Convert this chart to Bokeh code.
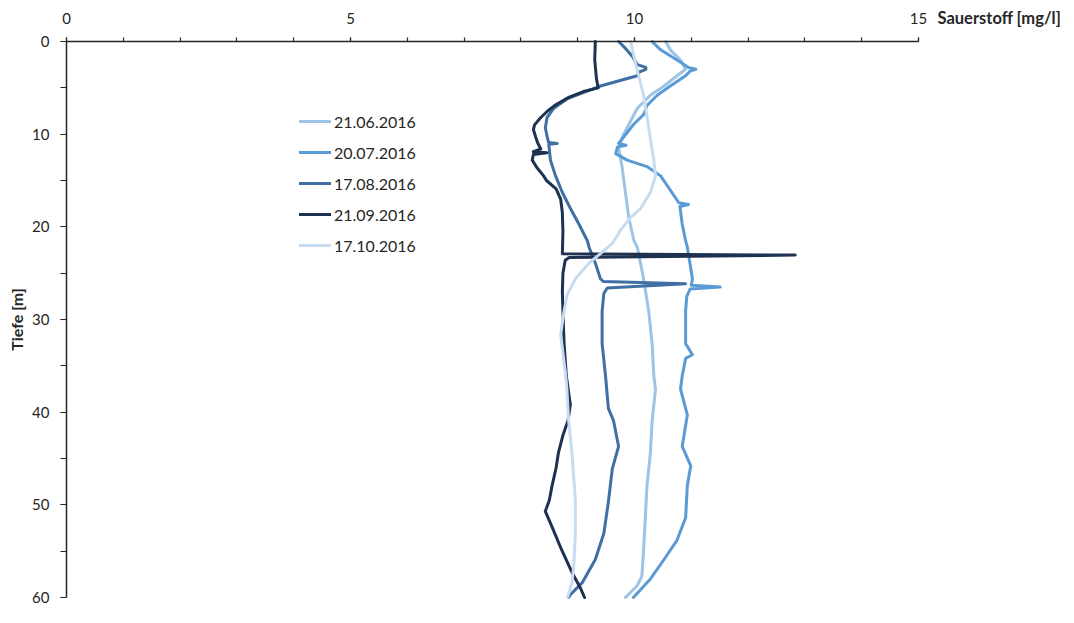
import math
from bokeh.plotting import figure
from bokeh.models import Range1d, Legend, LegendItem, Label, FixedTicker
from bokeh.embed import file_html
from bokeh.resources import INLINE

# ---- data (depth in m, oxygen in mg/l) ----
d_0621 = [0, 0.9, 2.0, 3.0, 3.7, 4.8, 5.8, 7.2, 8.6, 10.0, 11.4, 13.5, 16.3, 19.0, 21.5, 22.2,
          25.6, 29.1, 32.6, 36.1, 37.5, 41.0, 44.4, 47.9, 51.4, 54.9, 57.7, 58.7, 60]
v_0621 = [10.55, 10.63, 10.81, 10.90, 10.75, 10.52, 10.28, 10.05, 9.93, 9.81, 9.72, 9.78, 9.84,
          9.90, 9.99, 10.05, 10.16, 10.25, 10.31, 10.34, 10.37, 10.31, 10.28, 10.22, 10.19,
          10.16, 10.13, 10.05, 9.84]

d_0720 = [0, 0.9, 2.0, 2.8, 3.0, 3.2, 3.7, 4.8, 5.8, 6.9, 7.9, 8.9, 10.3, 11.0, 11.2, 11.4, 12.1,
          12.8, 13.5, 14.5, 16.3, 17.4, 17.6, 17.8, 19.7, 21.5, 22.2, 25.6, 26.3, 26.5, 26.7,
          27.5, 29.1, 32.6, 33.8, 34.2, 36.1, 37.5, 40.3, 43.7, 45.8, 47.9, 51.4, 53.8, 55.9,
          58.0, 60]
v_0720 = [10.31, 10.46, 10.75, 10.95, 11.08, 10.98, 10.90, 10.63, 10.40, 10.22, 10.16, 9.99,
          9.81, 9.72, 9.85, 9.70, 9.67, 9.87, 10.22, 10.46, 10.66, 10.78, 10.95, 10.80, 10.84,
          10.90, 10.93, 11.02, 11.00, 11.51, 10.98, 10.92, 10.90, 10.90, 11.02, 10.90, 10.84,
          10.81, 10.93, 10.84, 10.99, 10.93, 10.90, 10.75, 10.52, 10.28, 9.98]

d_0817 = [0, 0.8, 1.6, 2.5, 2.8, 3.0, 3.3, 3.7, 4.1, 4.8, 5.5, 6.2, 7.2, 8.2, 9.3, 10.5, 10.9,
          11.0, 11.1, 11.6, 12.8, 14.5, 16.3, 18.0, 19.7, 21.5, 22.2, 23.9, 25.6, 25.9, 26.15,
          26.6, 27.2, 29.1, 32.6, 36.1, 39.6, 40.9, 43.7, 46.1, 49.7, 53.1, 55.9, 58.4, 59.7, 60]
v_0817 = [9.72, 9.85, 9.96, 10.05, 10.20, 10.20, 10.08, 10.05, 9.81, 9.40, 9.11, 8.81, 8.58,
          8.46, 8.43, 8.47, 8.49, 8.64, 8.49, 8.50, 8.52, 8.61, 8.73, 8.87, 9.02, 9.17, 9.20,
          9.31, 9.40, 9.45, 10.90, 9.52, 9.46, 9.43, 9.43, 9.49, 9.54, 9.63, 9.72, 9.61, 9.54,
          9.46, 9.31, 9.08, 8.87, 8.84]

d_0921 = [0, 2, 4, 5.0, 5.4, 6.0, 6.8, 7.5, 8.2, 9.0, 9.5, 10.3, 11.0, 11.6, 11.9, 12.0, 12.2,
          12.8, 13.6, 14.5, 15.0, 15.9, 17.0, 18.5, 20.5, 22.9, 23.05, 23.3, 23.6, 25.0, 27.0,
          29.1, 32.6, 36.1, 39.2, 40.9, 42.5, 44.4, 46.0, 47.9, 49.5, 50.7, 52.4, 54.9, 57.3,
          59.0, 60]
v_0921 = [9.31, 9.30, 9.33, 9.36, 9.10, 8.85, 8.62, 8.47, 8.35, 8.24, 8.22, 8.26, 8.30, 8.35,
          8.22, 8.46, 8.22, 8.20, 8.28, 8.40, 8.45, 8.62, 8.70, 8.73, 8.74, 8.73, 12.83, 8.85,
          8.78, 8.74, 8.73, 8.74, 8.76, 8.80, 8.87, 8.83, 8.74, 8.66, 8.62, 8.55, 8.50, 8.43,
          8.55, 8.72, 8.90, 9.05, 9.12]

d_1017 = [0, 2.4, 5.8, 9.3, 12.8, 14.5, 16.3, 18.0, 19.0, 20.4, 21.8, 22.9, 23.9, 25.6, 27.4,
          29.1, 31.6, 32.6, 36.1, 37.5, 40.9, 44.4, 49.7, 53.0, 56.6, 58.4, 60]
v_1017 = [9.93, 10.02, 10.16, 10.25, 10.34, 10.37, 10.28, 10.11, 9.93, 9.75, 9.61, 9.40, 9.20,
          8.96, 8.81, 8.76, 8.70, 8.72, 8.79, 8.81, 8.84, 8.90, 8.96, 8.96, 8.93, 8.90, 8.82]

series_names = ["21.06.2016", "20.07.2016", "17.08.2016", "21.09.2016", "17.10.2016"]
series_depth = [d_0621, d_0720, d_0817, d_0921, d_1017]
series_vals = [v_0621, v_0720, v_0817, v_0921, v_1017]
series_colors = ["#9DC3E6", "#5B9BD5", "#3F6FA3", "#1E3150", "#C8DCF1"]

x_ticks = [0, 5, 10, 15]
y_ticks = [0, 10, 20, 30, 40, 50, 60]
x_min, x_max = 0, 15
y_top, y_bottom = 0, 60

FONT = "Lato"
TXT = "#262626"

# layout in pixels: the frame covers the whole canvas; both axes are placed
# at fixed data locations so that every text lies inside the frame
W, H = 1066, 607
AXIS_LEFT_PX = 66       # where 0 mg/l sits, from canvas left
AXIS_RIGHT_PX = 918     # where 15 mg/l sits
AXIS_TOP_PX = 41        # where depth 0 sits, from canvas top
AXIS_BOTTOM_PX = 597    # where depth 60 sits
px_per_x = (AXIS_RIGHT_PX - AXIS_LEFT_PX) / (x_max - x_min)
px_per_y = (AXIS_BOTTOM_PX - AXIS_TOP_PX) / (y_bottom - y_top)
x_start = x_min - AXIS_LEFT_PX / px_per_x
x_end = x_min + (W - AXIS_LEFT_PX) / px_per_x
y_start = y_top - AXIS_TOP_PX / px_per_y
y_end = y_top + (H - AXIS_TOP_PX) / px_per_y

p = figure(width=W, height=H, output_backend="svg", toolbar_location=None,
           x_range=Range1d(x_start, x_end), y_range=Range1d(y_end, y_start),
           x_axis_location="above", min_border=0)
p.outline_line_color = None
p.xgrid.visible = False
p.ygrid.visible = False
p.background_fill_color = "white"
p.border_fill_color = "white"

xa = p.xaxis[0]
xa.ticker = FixedTicker(ticks=x_ticks, minor_ticks=list(range(0, 16)))
xa.fixed_location = y_top
xa.bounds = (x_min, x_max)
ya = p.yaxis[0]
ya.ticker = FixedTicker(ticks=y_ticks, minor_ticks=list(range(0, 61, 5)))
ya.fixed_location = x_min
ya.bounds = (y_top, y_bottom)

for ax in (xa, ya):
    ax.axis_line_color = TXT
    ax.axis_line_width = 1.5
    ax.major_tick_line_color = TXT
    ax.minor_tick_line_color = TXT
    ax.major_tick_line_width = 1.2
    ax.minor_tick_line_width = 1.2
    ax.major_tick_in = 0
    ax.minor_tick_in = 0
    ax.major_label_text_font = FONT
    ax.major_label_text_font_size = "15px"
    ax.major_label_text_color = TXT

xa.major_tick_out = 4
xa.minor_tick_out = 4
xa.major_label_standoff = 14
ya.major_tick_out = 6
ya.minor_tick_out = 6
ya.major_label_standoff = 11

items = []
for name, dd, vv, col in zip(series_names, series_depth, series_vals, series_colors):
    r = p.line(vv, dd, line_color=col, line_width=3, line_join="round", line_cap="round")
    items.append(LegendItem(label=name, renderers=[r]))

legend = Legend(items=items, location=(299, 352), border_line_color=None,
                background_fill_alpha=0, padding=0, margin=0,
                glyph_width=32, glyph_height=20, label_height=20, spacing=11,
                label_standoff=3, label_text_font=FONT, label_text_font_size="16px",
                label_text_color=TXT)
p.add_layout(legend, "center")

xlab = Label(x=x_max, y=y_top, x_offset=19, y_offset=24,
             text="Sauerstoff [mg/l]",
             text_font=FONT, text_font_size="16.5px", text_font_style="bold",
             text_color=TXT, text_baseline="middle", text_align="left")
p.add_layout(xlab)

ylab = Label(x=x_min, y=(y_top + y_bottom) / 2, x_offset=-50, angle=math.pi / 2,
             text="Tiefe [m]",
             text_font=FONT, text_font_size="16px", text_font_style="bold",
             text_color=TXT, text_baseline="middle", text_align="center")
p.add_layout(ylab)

open("out.html", "w").write(file_html(p, INLINE))
